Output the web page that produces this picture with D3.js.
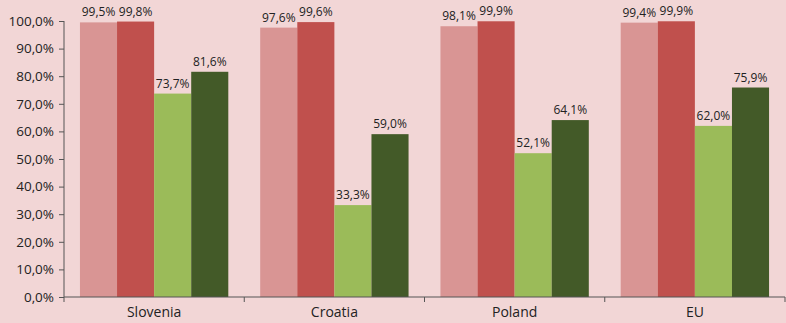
<!DOCTYPE html>
<html>
<head>
<meta charset="utf-8">
<script src="https://cdn.jsdelivr.net/npm/d3@7"></script>
<style>
  body { margin: 0; background: #f2d6d6; }
  text { font-family: "Open Sans", sans-serif; fill: #222; }
</style>
</head>
<body>
<div id="chart"></div>
<script>
// data
const countries = ["Slovenia", "Croatia", "Poland", "EU"];
const series1 = [99.5, 97.6, 98.1, 99.4];
const series2 = [99.8, 99.6, 99.9, 99.9];
const series3 = [73.7, 33.3, 52.1, 62.0];
const series4 = [81.6, 59.0, 64.1, 75.9];
const yTicks = [0, 10, 20, 30, 40, 50, 60, 70, 80, 90, 100];

const colors = ["#d99594", "#c0504d", "#9bbb59", "#435a28"];
const allSeries = [series1, series2, series3, series4];

const width = 786;
const height = 323;
const margin = { top: 21, right: 1, bottom: 26, left: 64 };
const font = "'Open Sans', sans-serif";

const svg = d3.select("#chart")
  .append("svg")
  .attr("width", width)
  .attr("height", height);

const x0 = d3.scaleBand()
  .domain(countries)
  .range([margin.left, width - margin.right])
  .paddingInner(0)
  .paddingOuter(0);

const x1 = d3.scaleBand()
  .domain(d3.range(allSeries.length))
  .range([0, x0.bandwidth()])
  .paddingOuter(0.43)
  .paddingInner(0);

const y = d3.scaleLinear()
  .domain([0, 100])
  .range([height - margin.bottom, margin.top]);

const fmt = v => v.toFixed(1).replace(".", ",") + "%";

// bars
countries.forEach(function(c, i) {
  const g = svg.append("g").attr("transform", "translate(" + x0(c) + ",0)");
  allSeries.forEach(function(s, j) {
    g.append("rect")
      .attr("x", x1(j))
      .attr("y", y(s[i]))
      .attr("width", x1.bandwidth())
      .attr("height", y(0) - y(s[i]))
      .attr("fill", colors[j]);
    g.append("text")
      .attr("x", x1(j) + x1.bandwidth() / 2)
      .attr("y", y(s[i]) - 6)
      .attr("text-anchor", "middle")
      .attr("font-size", 12)
      .text(fmt(s[i]));
  });
});

// y axis
const yAxis = d3.axisLeft(y)
  .tickValues(yTicks)
  .tickFormat(fmt)
  .tickSize(5)
  .tickPadding(5);

const gy = svg.append("g")
  .attr("transform", "translate(" + margin.left + ",0)")
  .call(yAxis);
gy.select(".domain").attr("stroke", "#555").attr("d", "M0," + y(0) + "V" + y(100));
gy.selectAll(".tick line").attr("stroke", "#555");
gy.selectAll(".tick text").attr("font-size", 13.5).attr("font-family", font).attr("fill", "#222");

// x axis
const xAxis = d3.axisBottom(x0).tickSize(0).tickPadding(10);
const gx = svg.append("g")
  .attr("transform", "translate(0," + y(0) + ")")
  .call(xAxis);
gx.select(".domain").attr("stroke", "#555").attr("d", "M" + margin.left + ",0H" + (width - margin.right));
gx.selectAll(".tick text").attr("font-size", 14).attr("font-family", font).attr("fill", "#222");

// tick marks between categories
const bounds = countries.map(c => x0(c)).concat([x0(countries[countries.length - 1]) + x0.bandwidth()]);
gx.selectAll(".sep")
  .data(bounds)
  .enter()
  .append("line")
  .attr("class", "sep")
  .attr("x1", d => d)
  .attr("x2", d => d)
  .attr("y1", 0)
  .attr("y2", 5)
  .attr("stroke", "#555");
</script>
</body>
</html>
